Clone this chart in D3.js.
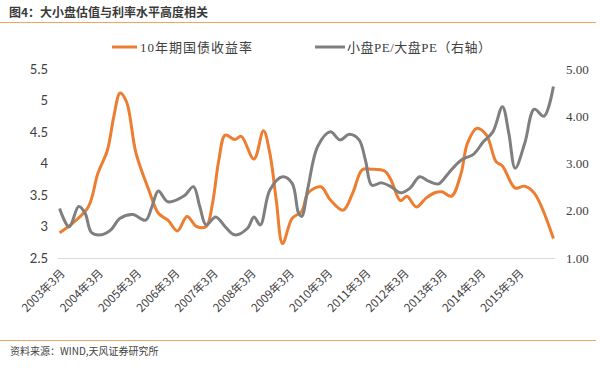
<!DOCTYPE html>
<html><head><meta charset="utf-8">
<script src="https://cdn.jsdelivr.net/npm/d3@7"></script>
<style>
html,body{margin:0;padding:0;background:#fff;}
svg{display:block;}
</style>
</head><body>
<svg id="c" width="600" height="370"></svg>
<script>
// ---- data ----
const yieldDates = ["2003-03","2003-07","2003-12","2004-03","2004-06","2004-08","2004-10","2004-12","2005-03","2005-07","2005-10","2006-01","2006-04","2006-07","2006-10","2007-01","2007-03","2007-05","2007-07","2007-10","2007-12","2008-04","2008-07","2008-09","2008-11","2009-01","2009-04","2009-07","2009-09","2010-01","2010-04","2010-08","2010-11","2011-02","2011-05","2011-09","2011-11","2012-02","2012-04","2012-07","2012-10","2013-01","2013-03","2013-06","2013-09","2013-11","2014-02","2014-05","2014-08","2014-10","2015-02","2015-05","2015-08","2016-02"];
const yieldValues = [2.90,3.05,3.31,3.84,4.21,4.74,5.12,4.98,4.16,3.58,3.21,3.10,2.93,3.16,3.00,3.00,3.37,4.06,4.45,4.38,4.43,4.07,4.52,4.16,3.42,2.73,3.13,3.24,3.53,3.63,3.42,3.26,3.53,3.90,3.91,3.88,3.74,3.41,3.48,3.31,3.45,3.54,3.55,3.48,3.84,4.32,4.56,4.45,4.03,3.96,3.61,3.64,3.53,2.81];

const peDates = ["2003-03","2003-06","2003-09","2003-11","2004-01","2004-04","2004-07","2004-10","2005-02","2005-06","2005-08","2005-10","2006-01","2006-06","2006-09","2006-11","2007-01","2007-04","2007-07","2007-10","2008-02","2008-04","2008-06","2008-09","2009-01","2009-04","2009-06","2009-07","2009-09","2009-12","2010-04","2010-07","2010-10","2011-01","2011-03","2011-05","2011-08","2011-11","2012-02","2012-05","2012-08","2012-11","2013-02","2013-05","2013-09","2014-01","2014-04","2014-07","2014-10","2014-12","2015-02","2015-05","2015-08","2015-11","2016-02"];
const peValues = [2.05,1.66,2.09,1.95,1.54,1.49,1.59,1.84,1.92,1.80,2.09,2.42,2.19,2.31,2.51,2.09,1.70,1.87,1.66,1.49,1.63,1.87,1.70,2.44,2.72,2.58,1.95,1.88,2.50,3.36,3.67,3.50,3.62,3.50,3.07,2.54,2.59,2.51,2.38,2.48,2.72,2.62,2.57,2.79,3.07,3.20,3.46,3.67,4.20,3.64,2.90,3.43,4.15,4.00,4.63];

const xTickLabels = ["2003年3月","2004年3月","2005年3月","2006年3月","2007年3月","2008年3月","2009年3月","2010年3月","2011年3月","2012年3月","2013年3月","2014年3月","2015年3月"];
const leftTicks = [2.5,3,3.5,4,4.5,5,5.5];
const rightTicks = [1,2,3,4,5];
const seriesNames = ["10年期国债收益率","小盘PE/大盘PE（右轴）"];
const titleText = "图4：大小盘估值与利率水平高度相关";
const sourceText = "资料来源：WIND,天风证券研究所";

// ---- helpers ----
function monthIndex(s){ const [y,m]=s.split("-").map(Number); return (y-2003)*12 + (m-3); }

const svg = d3.select("#c");
const orange = "#ED7D31", gray = "#7F7F7F";

const x = d3.scaleLinear().domain([-0.5, 155.5]).range([58, 555]);
const yL = d3.scaleLinear().domain([2.5, 5.5]).range([258, 69]);
const yR = d3.scaleLinear().domain([1, 5]).range([258, 69]);

// title and rules
svg.append("text").attr("x",9).attr("y",17).text(titleText)
  .attr("font-family","'Noto Sans CJK SC'").attr("font-size",12).attr("font-weight","bold").attr("fill","#3a3a3a");
svg.append("line").attr("x1",0).attr("x2",596).attr("y1",22.5).attr("y2",22.5).attr("stroke","#EBA669").attr("stroke-width",1.2);
svg.append("line").attr("x1",0).attr("x2",596).attr("y1",340.5).attr("y2",340.5).attr("stroke","#EBA669").attr("stroke-width",1.2);
svg.append("text").attr("x",10).attr("y",355).text(sourceText)
  .attr("font-family","'Noto Sans CJK SC'").attr("font-size",10).attr("fill","#444");

// bottom gridline
svg.append("line").attr("x1",58).attr("x2",555).attr("y1",yL(2.5)+0.5).attr("y2",yL(2.5)+0.5).attr("stroke","#d9d9d9").attr("stroke-width",1);

// left axis
const gl = svg.append("g").attr("transform","translate(48,0)")
  .call(d3.axisLeft(yL).tickValues(leftTicks).tickSize(0).tickPadding(0).tickFormat(d=>String(d)));
gl.select(".domain").remove();
gl.selectAll("text").attr("font-family","Lato").attr("font-size",13).attr("fill","#404040");

// right axis
const gr = svg.append("g").attr("transform","translate(566,0)")
  .call(d3.axisRight(yR).tickValues(rightTicks).tickSize(0).tickPadding(0).tickFormat(d3.format(".2f")));
gr.select(".domain").remove();
gr.selectAll("text").attr("font-family","'Liberation Serif'").attr("font-size",13).attr("fill","#404040");

// x tick labels
const gx = svg.append("g");
gx.selectAll("text").data(xTickLabels).join("text")
  .attr("transform",(d,i)=>`translate(${x(i*12)+6},${274}) rotate(-45)`)
  .attr("text-anchor","end")
  .attr("font-family","'Noto Sans CJK SC'").attr("font-size",11.5).attr("fill","#404040")
  .text(d=>d);

// lines
const line = (ys)=>d3.line().x(d=>x(d[0])).y(d=>ys(d[1])).curve(d3.curveCatmullRom.alpha(0.5));
const yieldData = yieldDates.map((d,i)=>[monthIndex(d), yieldValues[i]]);
const peData = peDates.map((d,i)=>[monthIndex(d), peValues[i]]);

svg.append("path").datum(yieldData).attr("d",line(yL)).attr("fill","none").attr("stroke",orange).attr("stroke-width",3).attr("stroke-linejoin","round");
svg.append("path").datum(peData).attr("d",line(yR)).attr("fill","none").attr("stroke",gray).attr("stroke-width",3).attr("stroke-linejoin","round");

// legend
const lg = svg.append("g");
lg.append("line").attr("x1",112).attr("x2",137).attr("y1",47).attr("y2",47).attr("stroke",orange).attr("stroke-width",3);
lg.append("text").attr("x",140).attr("y",52).text(seriesNames[0])
  .attr("font-family","'Liberation Serif','Noto Sans CJK SC'").attr("font-size",13).attr("fill","#404040").attr("letter-spacing",1);
lg.append("line").attr("x1",315).attr("x2",345).attr("y1",47).attr("y2",47).attr("stroke",gray).attr("stroke-width",3);
lg.append("text").attr("x",347).attr("y",52).text(seriesNames[1])
  .attr("font-family","'Liberation Serif','Noto Sans CJK SC'").attr("font-size",13).attr("fill","#404040").attr("letter-spacing",0.5);
</script>
</body></html>
